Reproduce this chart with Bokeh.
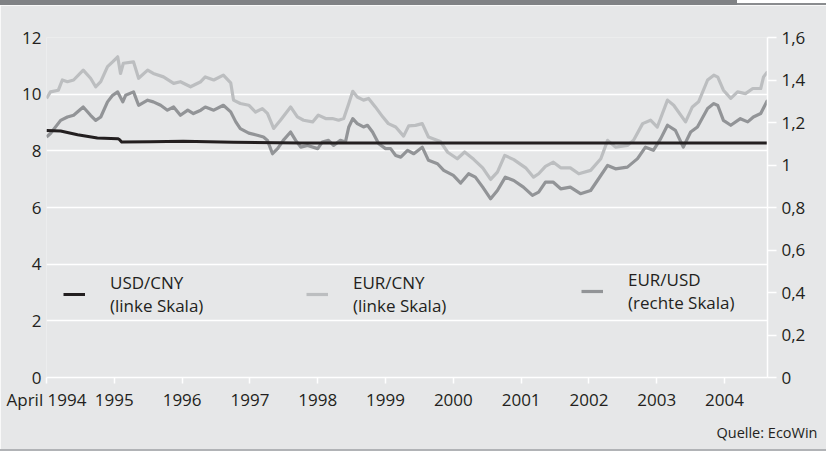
from bokeh.plotting import figure
from bokeh.layouts import column
from bokeh.models import (Range1d, LinearAxis, FixedTicker, CustomJSTickFormatter,
                          Legend, LegendItem, Title, Div)
from bokeh.embed import file_html
from bokeh.resources import INLINE

FONT = "Open Sans"
TEXT = "#231f20"
BG = "#e6e7e8"

# ---- data (x = months since April 1994) ----
usdcny_m = [0, 2.5, 5.5, 9.0, 12.6, 12.9, 13.3, 18.4, 24.2, 33.1, 45.0, 127.6]
usdcny = [8.72, 8.70, 8.57, 8.45, 8.43, 8.40, 8.31, 8.32, 8.34, 8.30, 8.28, 8.28]

eurcny_m = [0, 0.7, 2.1, 2.8, 3.7, 4.8, 6.5, 7.8, 8.7, 9.6,
            10.8, 11.7, 12.6, 13.1, 13.6, 15.4, 16.3, 17.9, 18.9, 20.7,
            22.5, 23.7, 25.5, 27.3, 28.1, 29.6, 31.3, 32.6, 33.1, 34.3,
            35.8, 37.0, 38.2, 39.1, 40.2, 41.4, 43.2, 44.4, 45.5, 47.1,
            48.1, 49.4, 50.6, 51.7, 52.6, 53.5, 54.2, 55.0, 56.1, 57.0,
            58.2, 59.5, 60.5, 61.8, 63.2, 64.1, 65.3, 66.5, 67.6, 69.7,
            71.0, 72.7, 74.0, 75.6, 77.2, 78.6, 79.8, 81.1, 82.7, 84.8,
            86.2, 87.1, 88.3, 89.7, 91.0, 92.7, 94.2, 96.3, 98.1, 99.3,
            100.7, 102.8, 103.9, 105.5, 106.9, 108.1, 109.9, 111.0, 113.1, 114.3,
            115.4, 117.0, 118.1, 118.8, 119.8, 121.1, 122.3, 123.7, 125.0, 126.4,
            126.9, 127.6]
eurcny = [9.85, 10.08, 10.14, 10.5, 10.44, 10.5, 10.85, 10.56, 10.26, 10.44,
          10.97, 11.14, 11.32, 10.73, 11.09, 11.14, 10.56, 10.85, 10.73, 10.61,
          10.38, 10.44, 10.26, 10.44, 10.61, 10.5, 10.67, 10.4, 9.79, 9.67,
          9.61, 9.37, 9.49, 9.32, 8.79, 9.08, 9.55, 9.2, 9.08, 9.02,
          9.26, 9.14, 9.14, 9.08, 9.14, 9.67, 10.1, 9.9, 9.79, 9.85,
          9.55, 9.2, 8.96, 8.84, 8.52, 8.88, 8.9, 8.96, 8.49, 8.33,
          7.95, 7.72, 7.96, 7.7, 7.4, 6.99, 7.25, 7.84, 7.69, 7.4,
          7.07, 7.19, 7.45, 7.6, 7.4, 7.4, 7.19, 7.31, 7.72, 8.37,
          8.13, 8.19, 8.37, 8.96, 9.08, 8.84, 9.79, 9.61, 9.02, 9.55,
          9.73, 10.5, 10.67, 10.6, 10.14, 9.85, 10.08, 10.02, 10.2, 10.2,
          10.61, 10.79]

eurusd_m = [0, 0.7, 2.5, 3.7, 4.8, 6.5, 7.8, 8.7, 9.6, 10.8,
            11.7, 12.6, 13.5, 14.0, 15.4, 16.3, 17.9, 18.9, 20.2, 21.4,
            22.5, 23.7, 25.0, 26.0, 27.3, 28.1, 29.6, 31.3, 32.6, 33.5,
            34.3, 35.8, 37.3, 38.4, 39.1, 40.0, 40.9, 41.9, 43.2, 44.1,
            45.0, 46.2, 48.0, 48.8, 49.9, 50.8, 52.0, 52.9, 53.5, 54.2,
            55.0, 56.1, 56.8, 57.7, 58.8, 60.0, 60.9, 61.8, 62.7, 63.9,
            65.0, 66.5, 67.6, 69.2, 70.3, 72.0, 73.3, 74.7, 75.9, 77.2,
            78.6, 79.8, 81.2, 82.7, 84.4, 86.0, 87.1, 88.3, 89.7, 91.0,
            92.7, 94.5, 96.3, 97.5, 99.3, 100.7, 102.8, 104.6, 106.0, 107.4,
            108.7, 109.9, 111.3, 112.7, 114.0, 115.2, 117.0, 118.1, 118.8, 119.8,
            121.1, 122.8, 124.1, 125.1, 126.4, 127.6]
eurusd = [1.132, 1.148, 1.21, 1.226, 1.234, 1.273, 1.234, 1.21, 1.226, 1.297,
          1.328, 1.344, 1.297, 1.328, 1.344, 1.281, 1.305, 1.297, 1.281, 1.258,
          1.273, 1.234, 1.258, 1.242, 1.258, 1.273, 1.258, 1.281, 1.25, 1.203,
          1.171, 1.15, 1.14, 1.132, 1.116, 1.053, 1.077, 1.116, 1.155, 1.116,
          1.084, 1.092, 1.077, 1.108, 1.116, 1.092, 1.116, 1.108, 1.179, 1.218,
          1.195, 1.179, 1.187, 1.155, 1.10, 1.077, 1.077, 1.045, 1.037, 1.069,
          1.053, 1.084, 1.022, 1.006, 0.975, 0.951, 0.915, 0.959, 0.943, 0.896,
          0.841, 0.88, 0.943, 0.927, 0.896, 0.857, 0.872, 0.919, 0.919, 0.888,
          0.896, 0.865, 0.88, 0.927, 0.998, 0.982, 0.99, 1.03, 1.084, 1.069,
          1.124, 1.187, 1.163, 1.084, 1.155, 1.179, 1.266, 1.289, 1.28, 1.21,
          1.187, 1.218, 1.203, 1.226, 1.242, 1.305]

x_ticks = [0, 12, 24, 36, 48, 60, 72, 84, 96, 108, 120]
x_labels = ["April 1994", "1995", "1996", "1997", "1998", "1999",
            "2000", "2001", "2002", "2003", "2004"]
left_ticks = [0, 2, 4, 6, 8, 10, 12]
right_ticks = [0, 0.2, 0.4, 0.6, 0.8, 1.0, 1.2, 1.4, 1.6]

series_names = ["USD/CNY\n(linke Skala)", "EUR/CNY\n(linke Skala)", "EUR/USD\n(rechte Skala)"]
source_text = "Quelle: EcoWin"

# ---- figure ----
p = figure(width=826, height=444, output_backend="svg", toolbar_location=None,
           x_range=Range1d(0, 127.6), y_range=Range1d(0, 12),
           min_border_left=46, min_border_right=59, min_border_top=32, min_border_bottom=72)
p.extra_y_ranges = {"right": Range1d(0, 1.6)}
p.background_fill_color = BG
p.border_fill_color = BG
p.outline_line_color = None

# grid
p.xgrid.visible = False
p.ygrid.ticker = FixedTicker(ticks=left_ticks)
p.ygrid.grid_line_color = "white"
p.ygrid.grid_line_width = 1.5

# bottom axis
xa = p.xaxis[0]
xa.ticker = FixedTicker(ticks=x_ticks)
xa.major_label_overrides = {t: l for t, l in zip(x_ticks, x_labels)}
xa.axis_line_color = "white"
xa.axis_line_width = 1.5
xa.major_tick_line_color = "white"
xa.major_tick_line_width = 1.5
xa.major_tick_out = 6
xa.major_tick_in = 0
xa.minor_tick_line_color = None
xa.major_label_standoff = 4
xa.major_label_text_font = FONT
xa.major_label_text_font_size = "17px"
xa.major_label_text_color = TEXT

# left axis
ya = p.yaxis[0]
ya.ticker = FixedTicker(ticks=left_ticks)
ya.axis_line_color = None
ya.major_tick_line_color = None
ya.minor_tick_line_color = None
ya.major_tick_out = 0
ya.major_tick_in = 0
ya.major_label_standoff = 5
ya.major_label_text_font = FONT
ya.major_label_text_font_size = "17px"
ya.major_label_text_color = TEXT

# right axis
ra = LinearAxis(y_range_name="right", ticker=FixedTicker(ticks=right_ticks),
                formatter=CustomJSTickFormatter(code="""
                    var s = tick.toFixed(1).replace('.', ',');
                    if (s.endsWith(',0')) { s = s.slice(0, -2); }
                    return s;"""))
ra.axis_line_color = "white"
ra.axis_line_width = 1.5
ra.major_tick_line_color = "white"
ra.major_tick_line_width = 1.5
ra.major_tick_out = 9
ra.major_tick_in = 0
ra.minor_tick_line_color = None
ra.major_label_standoff = 5
ra.major_label_text_font = FONT
ra.major_label_text_font_size = "17px"
ra.major_label_text_color = TEXT
p.add_layout(ra, "right")

# lines
r_eurcny = p.line(eurcny_m, eurcny, line_color="#bcbec0", line_width=3.2, line_join="round")
r_eurusd = p.line(eurusd_m, eurusd, line_color="#929497", line_width=3.2, line_join="round",
                  y_range_name="right")
r_usdcny = p.line(usdcny_m, usdcny, line_color=TEXT, line_width=3, line_join="round")

# legends
for rend, name, loc in [(r_usdcny, series_names[0], (17, 60)),
                        (r_eurcny, series_names[1], (260, 60)),
                        (r_eurusd, series_names[2], (535, 63))]:
    lg = Legend(items=[LegendItem(label=name, renderers=[rend])], location=loc,
                background_fill_alpha=0, border_line_color=None, padding=0, margin=0,
                glyph_width=22, glyph_height=20, label_standoff=25,
                label_text_font=FONT, label_text_font_size="17px",
                label_text_color=TEXT, label_text_line_height=1.15)
    p.add_layout(lg, "center")

# source note
p.add_layout(Title(text=source_text, align="right", offset=-50, standoff=14,
                   text_font=FONT, text_font_size="14.5px", text_font_style="normal",
                   text_color=TEXT), "below")

# decorative top bar and bottom rule
top_bar = Div(width=826, height=5, margin=0, text="",
              styles={"background": "linear-gradient(to right, #808285 0px, #808285 737px, "
                                    "rgba(0,0,0,0) 737px), "
                                    "linear-gradient(to bottom, #ffffff 0px, #ffffff 3px, "
                                    "#8a8c8f 3px, #8a8c8f 5px)"})
bottom_rule = Div(width=826, height=2, margin=0, text="",
                  styles={"background-color": "#b1b3b6"})

layout = column(top_bar, p, bottom_rule, spacing=0)
layout.margin = 0
p.margin = 0

open("out.html", "w").write(file_html(layout, INLINE))
